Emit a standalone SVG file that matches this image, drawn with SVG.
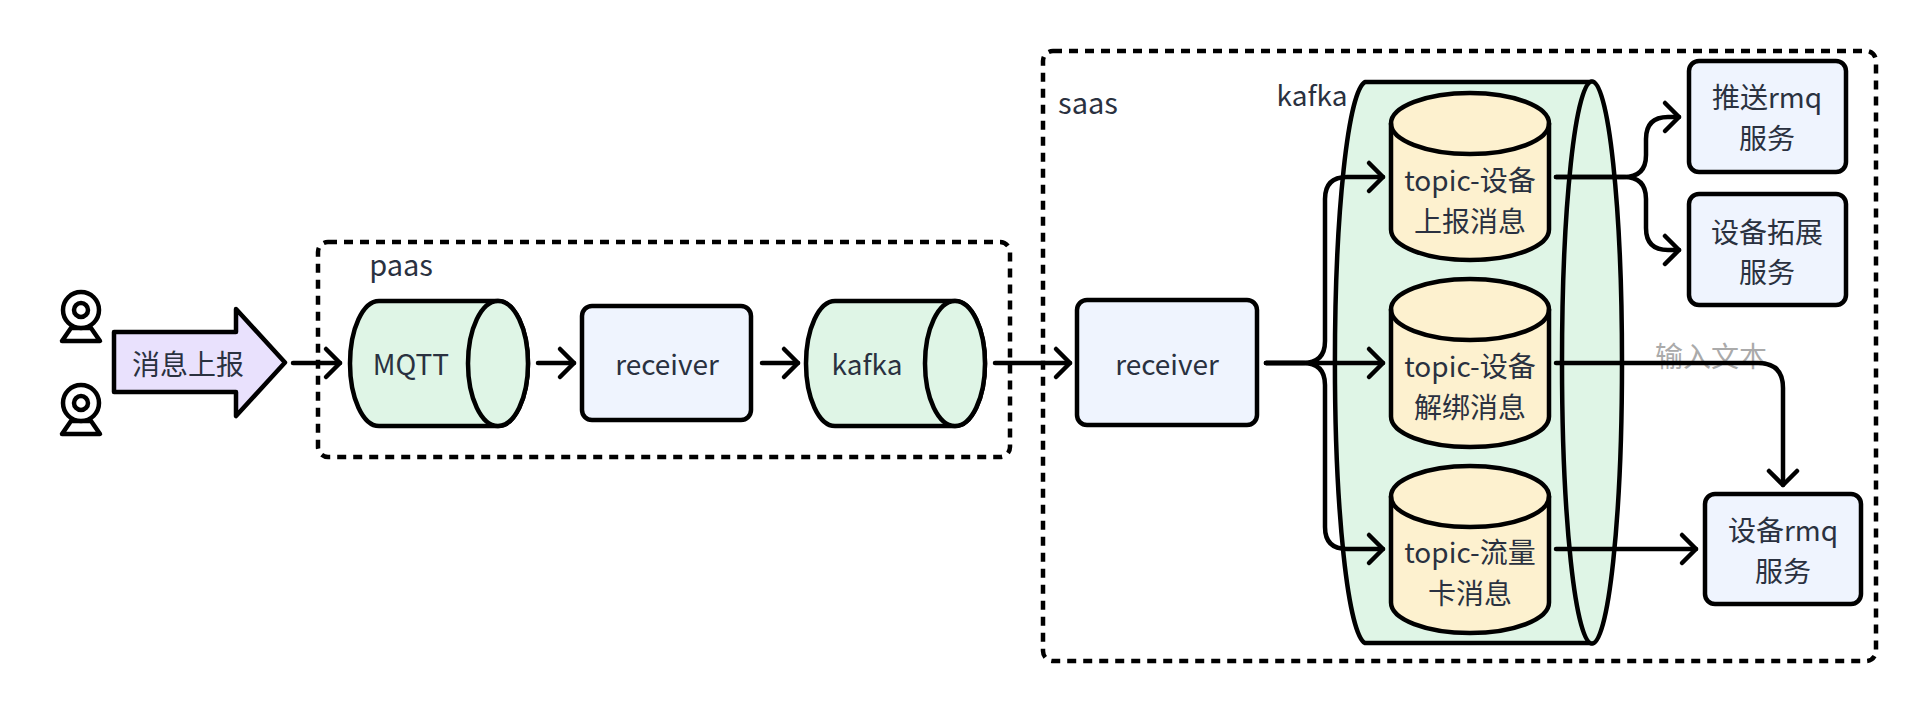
<svg xmlns="http://www.w3.org/2000/svg" width="1928" height="712" viewBox="0 0 1928 712">
<style>
text{font-family:"Noto Sans CJK SC","Noto Sans",sans-serif;font-size:28px;fill:#2a3140;text-anchor:middle}
.s{stroke:#000;stroke-width:4.500;stroke-linejoin:round;stroke-linecap:round}
.g{fill:#dff5e6}.y{fill:#fdf1cf}.b{fill:#eff4fe}.p{fill:#e9e1fd}.n{fill:none}.w{fill:#fff}
.d{fill:none;stroke:#000;stroke-width:4.500;stroke-dasharray:9 7}
.c{fill:none;stroke:#000;stroke-width:4.500;stroke-linecap:round;stroke-linejoin:round}
</style>
<defs>
<marker id="a" markerUnits="userSpaceOnUse" markerWidth="30" markerHeight="40" refX="16" refY="16" orient="auto" overflow="visible"><path d="M2 2L16 16L2 30" fill="none" stroke="#000" stroke-width="4.500" stroke-linecap="round" stroke-linejoin="round"/></marker>
</defs>
<g id="paas"><rect class="d" x="318" y="242" width="692" height="215" rx="10"/><text x="401" y="276" style="font-size:29px">paas</text></g>
<g id="saas"><rect class="d" x="1043" y="51" width="833" height="610" rx="10"/><text x="1088" y="114" style="font-size:29px">saas</text></g>
<g id="cam1"><path class="s w" d="M71 328H91L100 341H62Z"/><circle class="s w" cx="81" cy="310" r="18"/><circle class="s w" cx="81" cy="310" r="7"/></g>
<g id="cam2"><path class="s w" d="M71 421H91L100 434H62Z"/><circle class="s w" cx="81" cy="403" r="18"/><circle class="s w" cx="81" cy="403" r="7"/></g>
<g id="report"><path class="s p" d="M114 332H236V309L285 362.500L236 416V392H114Z"/><text x="188" y="375">消息上报</text></g>
<g id="mqtt"><path class="s g" d="M379 301H498A30 62.500 0 0 1 498 426H379A29 62.500 0 0 1 379 301Z"/><ellipse class="s g" cx="498" cy="363.500" rx="30" ry="62.500"/><text x="411" y="375">MQTT</text></g>
<g id="receiver1"><rect class="s b" x="582" y="306" width="169" height="114" rx="10"/><text x="667" y="375">receiver</text></g>
<g id="kafka1"><path class="s g" d="M835 301H955A30 62.500 0 0 1 955 426H835A29 62.500 0 0 1 835 301Z"/><ellipse class="s g" cx="955" cy="363.500" rx="30" ry="62.500"/><text x="867" y="375">kafka</text></g>
<g id="receiver2"><rect class="s b" x="1077" y="300" width="180" height="125" rx="10"/><text x="1167" y="375">receiver</text></g>
<g id="kafka2"><path class="s g" d="M1365 82H1592A30 281 0 0 1 1592 643H1365A32 281 0 0 1 1365 82Z"/><ellipse class="s g" cx="1592" cy="362.500" rx="30" ry="281"/><text x="1312" y="106">kafka</text></g>
<g id="topic1"><path class="s y" d="M1391 123.500A79 30.500 0 0 1 1549 123.500V229.500A79 30.500 0 0 1 1391 229.500Z"/><path class="s n" d="M1391 123.500A79 30.500 0 0 0 1549 123.500"/><text x="1470" y="191">topic-设备</text><text x="1470" y="232">上报消息</text></g>
<g id="topic2"><path class="s y" d="M1391 309.500A79 30.500 0 0 1 1549 309.500V416.500A79 30.500 0 0 1 1391 416.500Z"/><path class="s n" d="M1391 309.500A79 30.500 0 0 0 1549 309.500"/><text x="1470" y="377">topic-设备</text><text x="1470" y="418">解绑消息</text></g>
<g id="topic3"><path class="s y" d="M1391 496.500A79 30.500 0 0 1 1549 496.500V602.500A79 30.500 0 0 1 1391 602.500Z"/><path class="s n" d="M1391 496.500A79 30.500 0 0 0 1549 496.500"/><text x="1470" y="563">topic-流量</text><text x="1470" y="604">卡消息</text></g>
<g id="svc1"><rect class="s b" x="1689" y="61" width="157" height="111" rx="10"/><text x="1767" y="108">推送rmq</text><text x="1767" y="149">服务</text></g>
<g id="svc2"><rect class="s b" x="1689" y="194" width="157" height="111" rx="10"/><text x="1767" y="243">设备拓展</text><text x="1767" y="283">服务</text></g>
<g id="svc3"><rect class="s b" x="1705" y="494" width="156" height="110" rx="10"/><text x="1783" y="541">设备rmq</text><text x="1783" y="582">服务</text></g>
<text x="1711" y="367" style="fill:#aaa">输入文本</text>
<g id="connectors">
<path class="c" marker-end="url(#a)" d="M293 363H340"/>
<path class="c" marker-end="url(#a)" d="M538 363H574"/>
<path class="c" marker-end="url(#a)" d="M762 363H798"/>
<path class="c" marker-end="url(#a)" d="M995 363H1070"/>
<path class="c" marker-end="url(#a)" d="M1266 363H1303Q1325 363 1325 341V199Q1325 177 1347 177H1383"/>
<path class="c" marker-end="url(#a)" d="M1266 363H1383"/>
<path class="c" marker-end="url(#a)" d="M1266 363H1303Q1325 363 1325 385V527Q1325 549 1347 549H1383"/>
<path class="c" marker-end="url(#a)" d="M1556 177H1624Q1646 177 1646 155V139Q1646 117 1668 117H1679"/>
<path class="c" marker-end="url(#a)" d="M1556 177H1624Q1646 177 1646 199V228Q1646 250 1668 250H1679"/>
<path class="c" marker-end="url(#a)" d="M1556 363H1758Q1783 363 1783 388V485"/>
<path class="c" marker-end="url(#a)" d="M1556 549H1696"/>
</g>
</svg>
